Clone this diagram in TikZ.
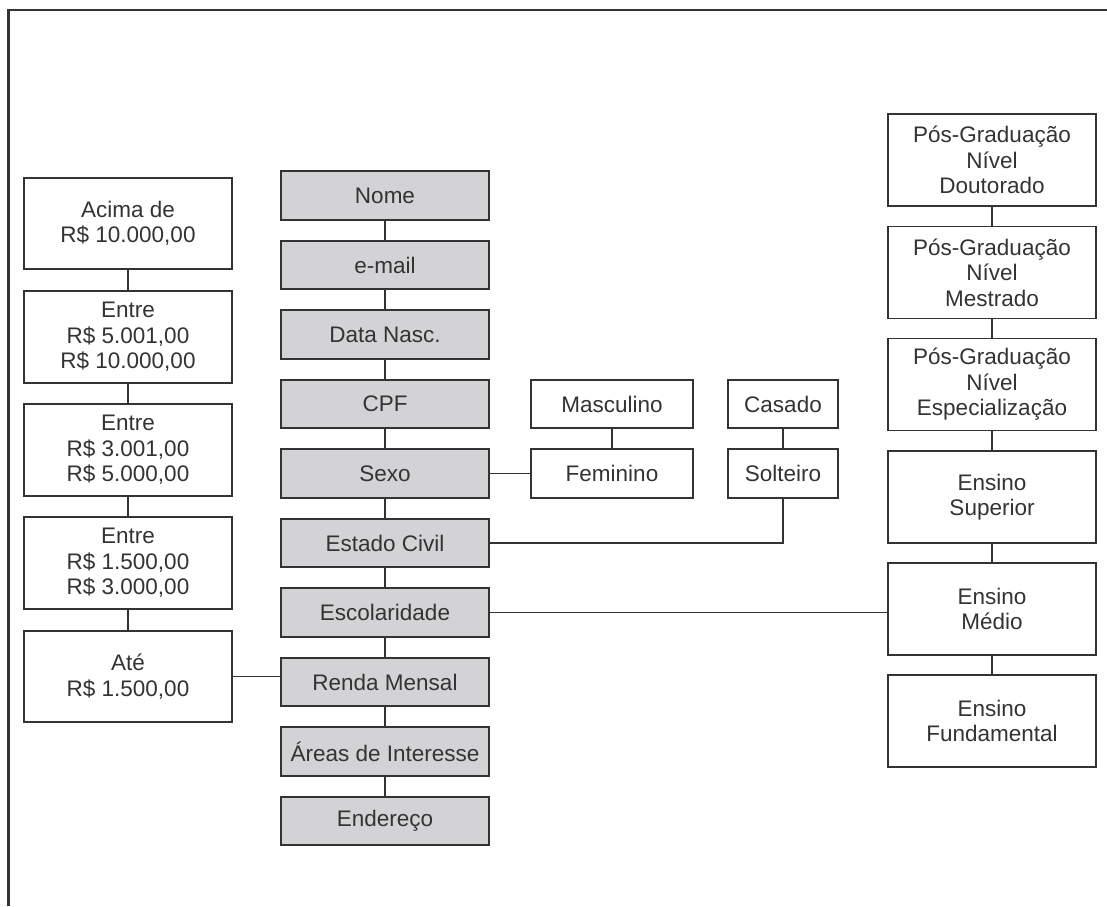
\documentclass[tikz,border=0pt]{standalone}
\usepackage{fontspec}
\setmainfont{Liberation Sans}
\definecolor{ink}{RGB}{51,51,51}
\definecolor{fieldfill}{RGB}{211,211,213}
\begin{document}
\begin{tikzpicture}[x=1pt,y=-1pt,
  box/.style={draw=ink, line width=1.8pt, fill=white, text=ink, inner sep=0pt,
    align=center, font=\fontsize{22.5}{25.5}\selectfont},
  field/.style={box, fill=fieldfill, minimum width=208pt, minimum height=48.5pt},
  income/.style={box, minimum width=208pt, minimum height=91.5pt},
  level/.style={box, minimum width=208pt, minimum height=92pt},
  sexbox/.style={box, minimum width=162pt, minimum height=48.5pt},
  civbox/.style={box, minimum width=110pt, minimum height=48.5pt},
  link/.style={draw=ink, line width=1.8pt}]
\useasboundingbox (0,0) rectangle (1107,906);

% frame
\draw[ink, line width=2.5pt] (8.5,906) -- (8.5,10) -- (1107,10);

% central column of form fields
\node[field] (nome)   at (385,195.5) {Nome};
\node[field] (email)  at (385,265)   {e-mail};
\node[field] (data)   at (385,334.5) {Data Nasc.};
\node[field] (cpf)    at (385,404)   {CPF};
\node[field] (sexo)   at (385,473.5) {Sexo};
\node[field] (estado) at (385,543)   {Estado Civil};
\node[field] (escol)  at (385,612.5) {Escolaridade};
\node[field] (renda)  at (385,682)   {Renda Mensal};
\node[field] (areas)  at (385,751.5) {Áreas de Interesse};
\node[field] (ender)  at (385,821)   {Endereço};

% income ranges
\node[income] (r5) at (128,223.5) {Acima de\\R\$ 10.000,00};
\node[income] (r4) at (128,337)   {Entre\\R\$ 5.001,00\\R\$ 10.000,00};
\node[income] (r3) at (128,450)   {Entre\\R\$ 3.001,00\\R\$ 5.000,00};
\node[income] (r2) at (128,563)   {Entre\\R\$ 1.500,00\\R\$ 3.000,00};
\node[income] (r1) at (128,676.5) {Até\\R\$ 1.500,00};

% sex
\node[sexbox] (masc) at (612,404)   {Masculino};
\node[sexbox] (fem)  at (612,473.5) {Feminino};

% marital status
\node[civbox] (casado)   at (783,404)   {Casado};
\node[civbox] (solteiro) at (783,473.5) {Solteiro};

% education levels
\node[level] (dout)  at (992,160)   {Pós-Graduação\\Nível\\Doutorado};
\node[level] (mest)  at (992,272.5) {Pós-Graduação\\Nível\\Mestrado};
\node[level] (espec) at (992,384.5) {Pós-Graduação\\Nível\\Especialização};
\node[level] (sup)   at (992,497)   {Ensino\\Superior};
\node[level] (medio) at (992,609)   {Ensino\\Médio};
\node[level] (fund)  at (992,721)   {Ensino\\Fundamental};

% connectors
\foreach \a/\b in {nome/email, email/data, data/cpf, cpf/sexo, sexo/estado,
  estado/escol, escol/renda, renda/areas, areas/ender,
  r5/r4, r4/r3, r3/r2, r2/r1, masc/fem, casado/solteiro,
  dout/mest, mest/espec, espec/sup, sup/medio, medio/fund}
  \draw[link] (\a.south) -- (\b.north);

\draw[link] (sexo.east) -- (fem.west);
\draw[link] (estado.east) -| (solteiro.south);
\draw[link] (escol.east) -- (escol.east -| medio.west);
\draw[link] (r1.east) -- (r1.east -| renda.west);
\end{tikzpicture}
\end{document}
